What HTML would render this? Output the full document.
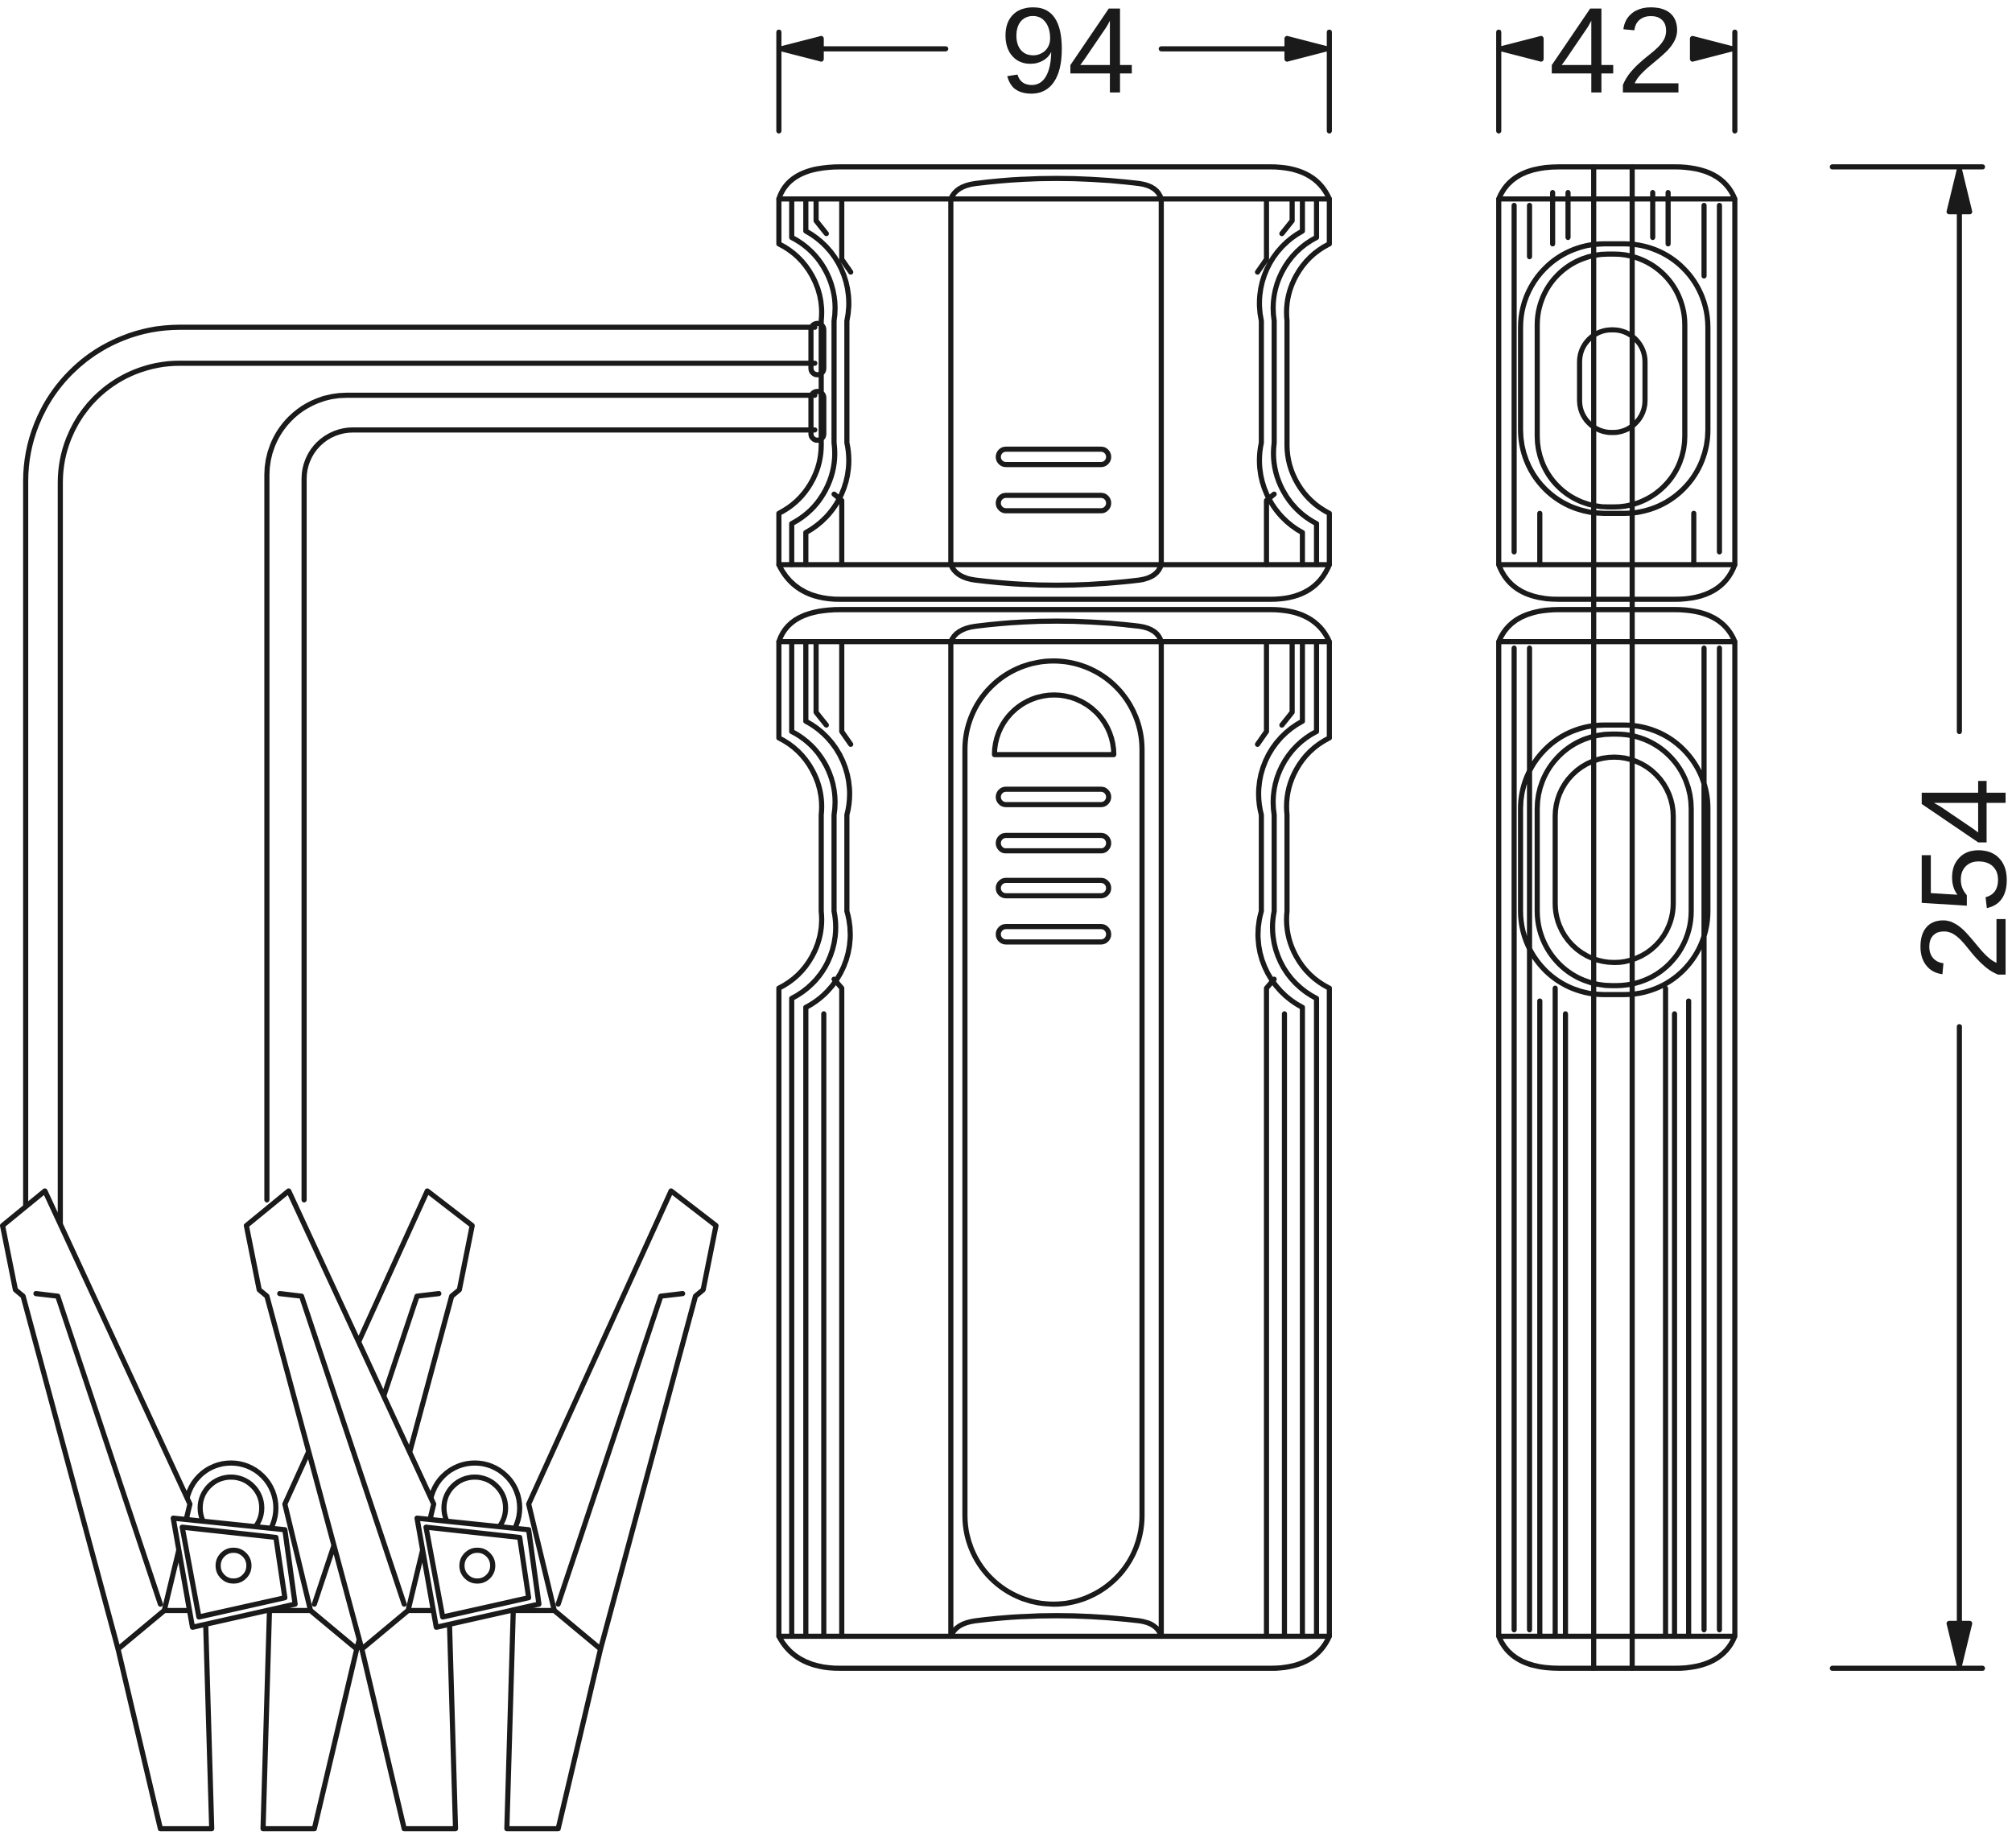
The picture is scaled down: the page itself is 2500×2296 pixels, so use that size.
<!DOCTYPE html>
<html><head><meta charset="utf-8"><style>
html,body{margin:0;padding:0;background:#fff;}
svg{display:block;}
</style></head><body>
<svg width="2500" height="2296" viewBox="0 0 1568 1440" xmlns="http://www.w3.org/2000/svg">
<rect width="1568" height="1440" fill="#fff"/>
<g fill="none" stroke="#1a1a1a" stroke-width="4" stroke-linejoin="round" stroke-linecap="round">
<!-- dimension 94 -->
<line x1="607" y1="25" x2="607" y2="102"/><line x1="1036" y1="25" x2="1036" y2="102"/>
<line x1="612" y1="38" x2="737" y2="38"/><line x1="905" y1="38" x2="1031" y2="38"/>
<polygon points="609,38 640,30 640,46" fill="#1a1a1a"/><polygon points="1034,38 1003,30 1003,46" fill="#1a1a1a"/>
<!-- dimension 42 -->
<line x1="1168" y1="25" x2="1168" y2="102"/><line x1="1352" y1="25" x2="1352" y2="102"/>
<line x1="1170" y1="38" x2="1200" y2="38"/><line x1="1320" y1="38" x2="1350" y2="38"/>
<polygon points="1170,38 1201,30 1201,46" fill="#1a1a1a"/><polygon points="1350,38 1319,30 1319,46" fill="#1a1a1a"/>
<!-- dimension 254 -->
<line x1="1428" y1="130" x2="1545" y2="130"/><line x1="1428" y1="1300" x2="1545" y2="1300"/>
<line x1="1527" y1="135" x2="1527" y2="570"/><line x1="1527" y1="800" x2="1527" y2="1295"/>
<polygon points="1527,132 1519,165 1535,165" fill="#1a1a1a"/><polygon points="1527,1298 1519,1265 1535,1265" fill="#1a1a1a"/>

<!-- cables -->
<path d="M635,255 H140 A120,120 0 0 0 20,375 V950"/>
<path d="M635,283 H140 A93,93 0 0 0 47,376 V960"/>
<path d="M635,308 H270 A62,62 0 0 0 208,370 V935"/>
<path d="M635,335 H275 A38,38 0 0 0 237,373 V935"/>

<!-- FRONT top part -->
<g id="sidenotch">
<path d="M607,155 V190 A60,60 0 0 1 640,250 V345 A60,60 0 0 1 607,400 V440"/>
<path d="M617,155 V185 A62,62 0 0 1 650,250 V345 A62,62 0 0 1 617,408 V440"/>
<path d="M628,155 V180 A64,64 0 0 1 660,250 V345 A64,64 0 0 1 628,415 V440"/>
<path d="M636,155 V172 L644,182 M656,155 V202 L663,212 M656,440 V390 L650,385"/>
</g>
<use href="#sidenotch" transform="translate(1643,0) scale(-1,1)"/>
<path d="M607,155 H1036 M607,440 H1036"/>
<path d="M607,155 Q615,130 655,130 H990 Q1025,130 1036,155"/>
<path d="M607,440 Q620,467 655,467 H990 Q1025,467 1036,440"/>
<path d="M741,155 V440 M905,155 V440"/>
<path d="M741,155 Q745,145 760,143 Q823,135 888,143 Q902,145 905,155"/>
<path d="M741,440 Q745,450 760,452 Q823,460 888,452 Q902,450 905,440"/>
<rect x="778" y="350" width="86" height="12" rx="6"/><rect x="778" y="386" width="86" height="12" rx="6"/>
<rect x="632" y="252" width="10" height="40" rx="5"/><rect x="632" y="305" width="10" height="38" rx="5"/>

<!-- FRONT bottom part -->
<g id="sidenotch2">
<path d="M607,500 V575 A60,60 0 0 1 640,635 V710 A60,60 0 0 1 607,770 V1275"/>
<path d="M617,500 V570 A62,62 0 0 1 650,635 V710 A62,62 0 0 1 617,778 V1275"/>
<path d="M628,500 V562 A64,64 0 0 1 660,635 V710 A64,64 0 0 1 628,785 V1275"/>
<path d="M636,500 V555 L644,565 M656,500 V570 L663,580 M656,1275 V770 L650,763 M642,1275 V790"/>
</g>
<use href="#sidenotch2" transform="translate(1643,0) scale(-1,1)"/>
<path d="M607,500 H1036 M607,1275 H1036"/>
<path d="M607,500 Q615,475 655,475 H990 Q1025,475 1036,500"/>
<path d="M607,1275 Q620,1300 655,1300 H990 Q1025,1300 1036,1275"/>
<path d="M741,500 V1275 M905,500 V1275"/>
<path d="M741,500 Q745,490 760,488 Q823,480 888,488 Q902,490 905,500"/>
<path d="M741,1275 Q745,1265 760,1263 Q823,1255 888,1263 Q902,1265 905,1275"/>
<rect x="752" y="515" width="138" height="735" rx="69"/>
<path d="M775,588 A46,46 0 0 1 868,588 Z"/>
<rect x="778" y="615" width="86" height="12" rx="6"/><rect x="778" y="651" width="86" height="12" rx="6"/>
<rect x="778" y="686" width="86" height="12" rx="6"/><rect x="778" y="722" width="86" height="12" rx="6"/>

<!-- SIDE top -->
<path d="M1168,155 H1352 M1168,440 H1352"/>
<path d="M1168,155 Q1178,130 1215,130 H1305 Q1342,130 1352,155 V440 Q1342,467 1305,467 H1215 Q1178,467 1168,440 Z"/>
<rect x="1185" y="190" width="146" height="210" rx="65"/>
<rect x="1198" y="198" width="115" height="197" rx="55"/>
<rect x="1231" y="257" width="51" height="80" rx="25"/>
<path d="M1180,160 V430 M1192,160 V200 M1200,400 V440 M1340,160 V430 M1328,160 V215 M1320,400 V440"/>
<path d="M1210,150 V190 M1222,150 V185 M1300,150 V190 M1288,150 V185"/>
<!-- SIDE bottom -->
<path d="M1168,500 H1352 M1168,1275 H1352"/>
<path d="M1168,500 Q1178,475 1215,475 H1305 Q1342,475 1352,500 V1275 Q1342,1300 1305,1300 H1215 Q1178,1300 1168,1275 Z"/>
<rect x="1185" y="565" width="146" height="210" rx="65"/>
<rect x="1198" y="572" width="120" height="196" rx="58"/>
<rect x="1212" y="590" width="92" height="160" rx="46"/>
<path d="M1180,505 V1270 M1192,505 V1270 M1200,780 V1275 M1212,770 V1275 M1220,790 V1275 M1328,505 V1270 M1340,505 V1270 M1316,780 V1275 M1305,790 V1275 M1298,770 V1275"/>
<path d="M1242,130 V1300 M1272,130 V1300"/>

<!-- clamps -->
<g id="clamp" fill="#fff">
<circle cx="180" cy="1175" r="35"/>
<circle cx="180" cy="1175" r="24"/>
<path d="M2,955 L35,928 L148,1172 L128,1255 L92,1285 L18,1010 L12,1005 Z"/>
<path d="M28,1008 L45,1010 L125,1250"/>
<path d="M92,1285 L128,1255 L160,1255 L165,1425 L125,1425 Z"/>
<path d="M368,955 L333,928 L222,1172 L242,1255 L278,1285 L352,1010 L358,1005 Z"/>
<path d="M342,1008 L325,1010 L245,1250"/>
<path d="M278,1285 L242,1255 L210,1255 L205,1425 L245,1425 Z"/>
<polygon points="135,1183 222,1192 230,1250 150,1268"/>
<polygon points="142,1190 215,1198 222,1245 155,1260"/>
<circle cx="182" cy="1220" r="12"/>
</g>
<use href="#clamp" transform="translate(190,0)"/>
</g>
<g font-family="Liberation Sans, sans-serif" fill="#1a1a1a" font-size="95">
<text x="832" y="72" text-anchor="middle">94</text>
<text x="1260" y="72" text-anchor="middle">42</text>
<text transform="translate(1563,685) rotate(-90)" text-anchor="middle">254</text>
</g>
</svg>
</body></html>
